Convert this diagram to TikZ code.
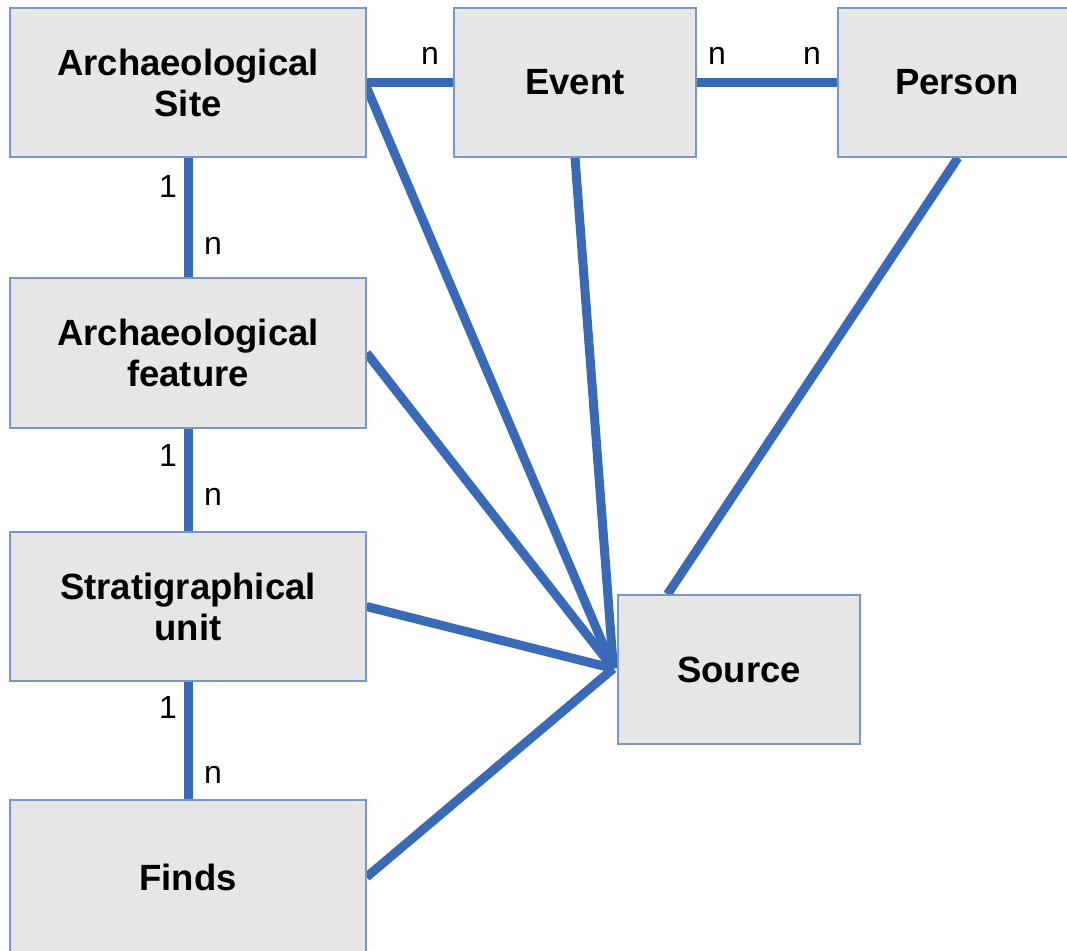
\documentclass[tikz,border=0pt]{standalone}
\usepackage{fontspec}
\setmainfont{Liberation Sans}
\usetikzlibrary{backgrounds,calc}
\definecolor{boxfill}{RGB}{230,230,230}
\definecolor{boxline}{RGB}{120,150,200}
\definecolor{linkblue}{RGB}{58,105,182}
\tikzset{
  entity/.style={rectangle, draw=boxline, line width=1.2pt, fill=boxfill, align=center,
    font=\fontsize{36.5}{41}\selectfont\bfseries, inner sep=0pt},
  link/.style={draw=linkblue, line width=9pt},
  card/.style={font=\fontsize{32}{36}\selectfont, inner sep=0pt}
}
\begin{document}
\begin{tikzpicture}[x=1pt,y=-1pt]
\useasboundingbox (0,0) rectangle (1067,950);
\clip (0,0) rectangle (1067,950);
\node[entity, minimum width=356pt, minimum height=149pt] (site) at (188,82.5) {Archaeological\\Site};
\node[entity, minimum width=242pt, minimum height=149pt] (event) at (575,82.5) {Event};
\node[entity, minimum width=238pt, minimum height=149pt] (person) at (957,82.5) {Person};
\node[entity, minimum width=356pt, minimum height=150pt] (feature) at (188,353) {Archaeological\\feature};
\node[entity, minimum width=356pt, minimum height=149pt] (strat) at (188,606.5) {Stratigraphical\\unit};
\node[entity, minimum width=356pt, minimum height=154pt] (finds) at (188,877) {Finds};
\node[entity, minimum width=242pt, minimum height=149pt] (source) at (739,669.5) {Source};
\coordinate (hub) at ($(source.west)+(-4,-1)$);
\begin{pgfonlayer}{background}
\fill[white] (0,0) rectangle (1067,950);
\draw[link] (site.east) -- (event.west);
\draw[link] (event.east) -- (person.west);
\draw[link] (site.south) -- (feature.north);
\draw[link] (feature.south) -- (strat.north);
\draw[link] (strat.south) -- (finds.north);
\draw[link] ($(site.east)+(0,5)$) -- (hub);
\draw[link] (event.south) -- (hub);
\draw[link] (feature.east) -- (hub);
\draw[link] (strat.east) -- (hub);
\draw[link] (finds.east) -- (hub);
\draw[link] ($(person.south)+(1,0)$) -- ($(source.north west)+(50,0)$);
\end{pgfonlayer}
\node[card] (c1) at (430,56) {n};
\node[card] (c2) at (717,56) {n};
\node[card] (c3) at (812,56) {n};
\node[card] (c4) at (168,186) {1};
\node[card] (c5) at (213,246) {n};
\node[card] (c6) at (168,455) {1};
\node[card] (c7) at (213,497) {n};
\node[card] (c8) at (168,707) {1};
\node[card] (c9) at (213,775) {n};
\end{tikzpicture}
\end{document}
